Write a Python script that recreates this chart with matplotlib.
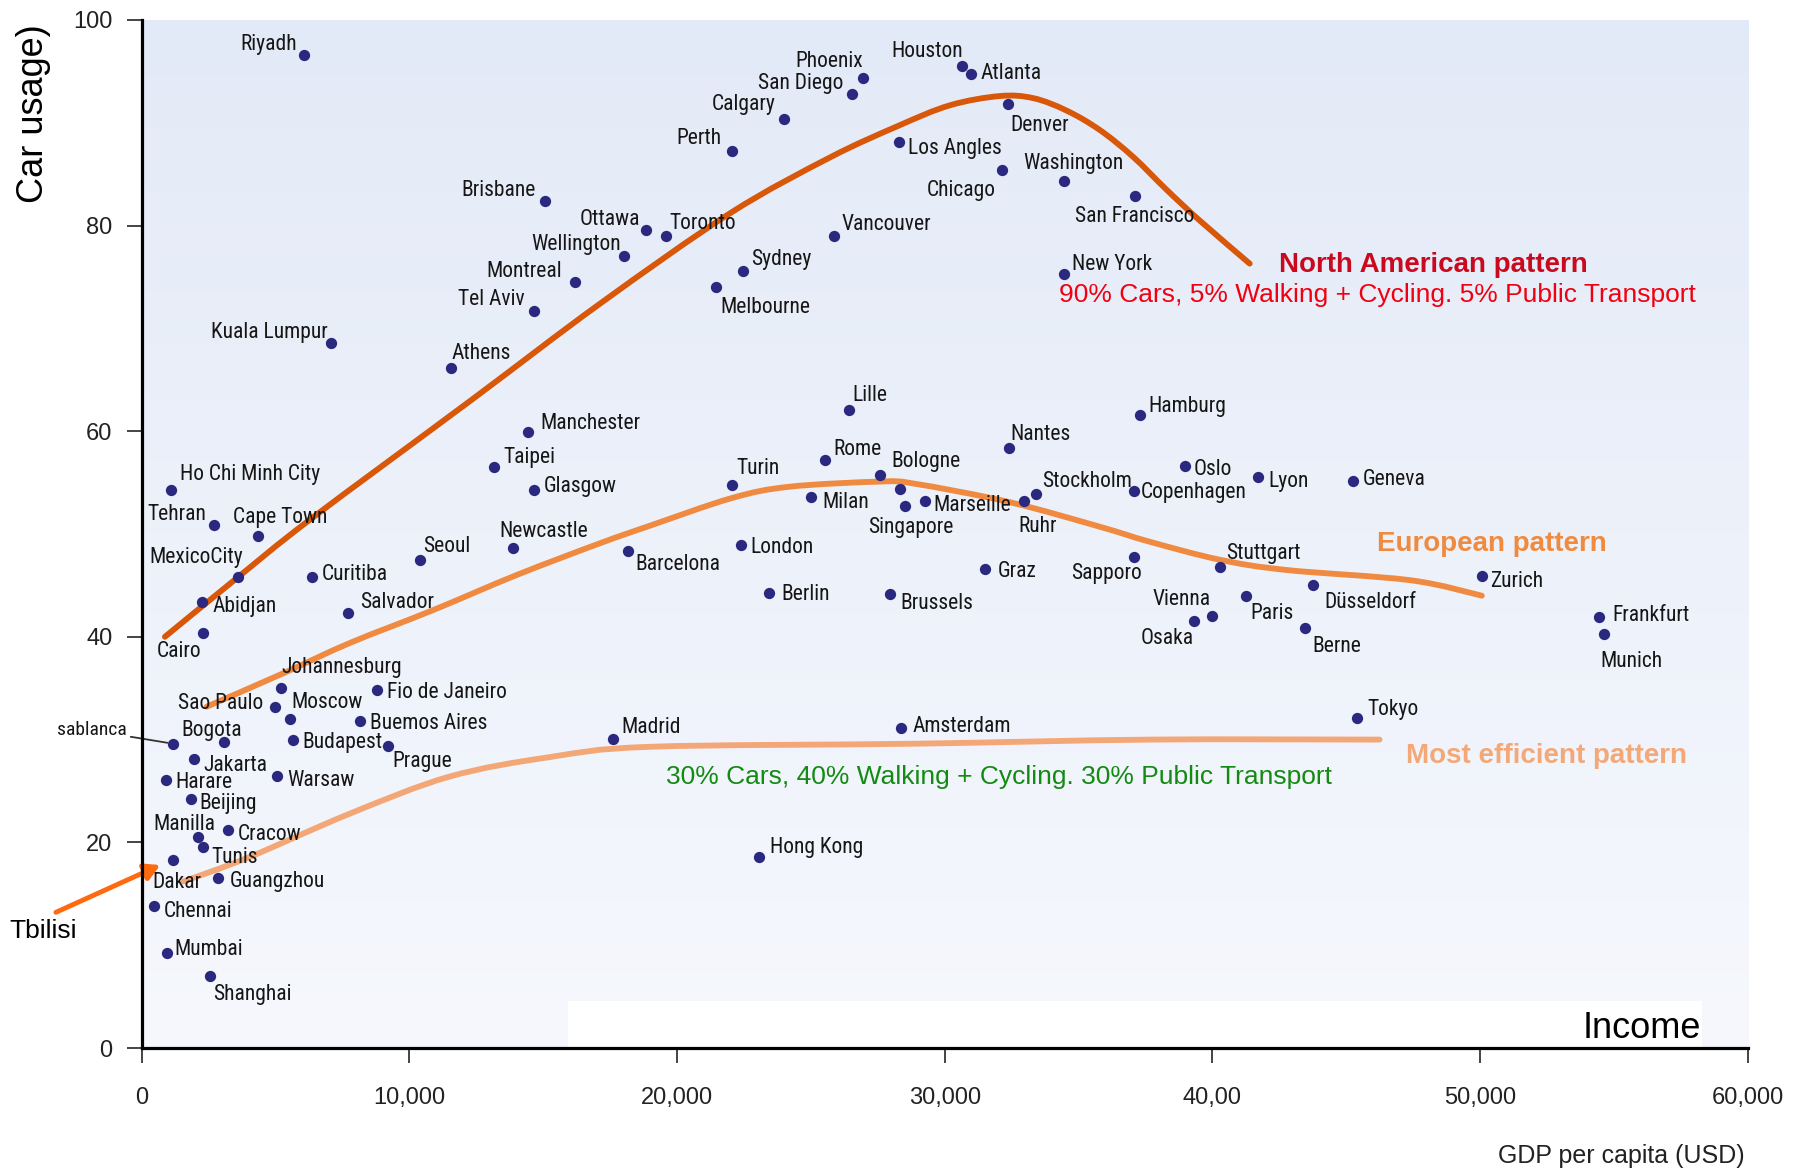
import numpy as np
import matplotlib
matplotlib.use("Agg")
import matplotlib.pyplot as plt
from matplotlib import font_manager
from matplotlib.patches import Rectangle, PathPatch
from matplotlib.path import Path

# ---------------- data ----------------
cities = ["Riyadh", "Houston", "Atlanta", "Phoenix", "San Diego", "Calgary", "Denver", "Perth",
          "Los Angles", "Chicago", "Washington", "San Francisco", "Brisbane", "Ottawa", "Toronto",
          "Wellington", "Vancouver", "Montreal", "Sydney", "Melbourne", "Tel Aviv", "New York",
          "Kuala Lumpur", "Athens", "Lille", "Hamburg", "Manchester", "Nantes", "Rome", "Taipei",
          "Oslo", "Bologne", "Lyon", "Geneva", "Turin", "Ho Chi Minh City", "Glasgow", "Copenhagen",
          "Stockholm", "Milan", "Marseille", "Ruhr", "Singapore", "", "Tehran", "Cape Town",
          "London", "Newcastle", "Barcelona", "Sapporo", "Seoul", "Stuttgart", "Graz", "Zurich",
          "MexicoCity", "Curitiba", "Düsseldorf", "Berlin", "Brussels", "Paris", "Abidjan",
          "Salvador", "Vienna", "Frankfurt", "Osaka", "Berne", "Cairo", "Munich", "Johannesburg",
          "Fio de Janeiro", "Sao Paulo", "Tokyo", "Moscow", "Buemos Aires", "Amsterdam", "Madrid",
          "Budapest", "Bogota", "Casablanca", "Prague", "Jakarta", "Warsaw", "Harare", "Beijing",
          "Cracow", "Manilla", "Tunis", "Hong Kong", "Dakar", "Guangzhou", "Chennai", "Mumbai",
          "Shanghai"]

gdp = [6060, 30630, 30980, 26960, 26550, 23990, 32360, 22060,
       28290, 32140, 34440, 37090, 15060, 18830, 19590,
       18030, 25850, 16190, 22480, 21460, 14650, 34440,
       7060, 11550, 26410, 37300, 14440, 32390, 25520, 13150,
       38990, 27590, 41700, 45250, 22050, 1090, 14650, 37080,
       33410, 24990, 29260, 32960, 28520, 28330, 2690, 4360,
       22370, 13860, 18150, 37070, 10390, 40270, 31510, 50080,
       3600, 6360, 43760, 23430, 27950, 41270, 2270,
       7720, 39970, 54430, 39320, 43440, 2290, 54610, 5190,
       8790, 5000, 45410, 5550, 8160, 28380, 17610,
       5670, 3070, 1170, 9190, 1960, 5060, 900, 1860,
       3220, 2090, 2290, 23070, 1160, 2850, 460, 940,
       2570]

car = [96.6, 95.5, 94.7, 94.4, 92.8, 90.4, 91.8, 87.3,
       88.1, 85.4, 84.3, 82.9, 82.4, 79.6, 79.0,
       77.0, 79.0, 74.5, 75.6, 74.0, 71.7, 75.3,
       68.6, 66.1, 62.1, 61.6, 59.9, 58.4, 57.2, 56.5,
       56.6, 55.7, 55.5, 55.2, 54.8, 54.3, 54.3, 54.2,
       53.9, 53.6, 53.2, 53.2, 52.7, 54.4, 50.9, 49.8,
       48.9, 48.6, 48.3, 47.8, 47.5, 46.8, 46.6, 45.9,
       45.8, 45.8, 45.0, 44.3, 44.2, 44.0, 43.4,
       42.3, 42.0, 41.9, 41.5, 40.9, 40.4, 40.3, 35.0,
       34.8, 33.2, 32.1, 32.0, 31.8, 31.1, 30.1,
       30.0, 29.8, 29.6, 29.4, 28.1, 26.5, 26.1, 24.2,
       21.2, 20.5, 19.6, 18.6, 18.3, 16.5, 13.8, 9.2,
       7.0]

# trend curves
na_gdp = [870, 3600, 6290, 12300, 17120, 21980, 25690, 28260, 30190, 32050, 33300,
          34540, 35790, 37030, 38280, 39520, 41390]
na_car = [40.0, 45.8, 51.4, 63.0, 72.4, 81.2, 86.6, 89.7, 91.7, 92.6, 92.4,
          91.2, 89.3, 86.7, 83.5, 80.5, 76.3]
eu_gdp = [2430, 5290, 7780, 10890, 14000, 17120, 18980, 22050, 24200, 27600, 28860,
          32420, 35800, 37650, 40270, 42760, 47400, 50060]
eu_car = [33.2, 36.45, 39.4, 42.6, 46.0, 49.1, 50.8, 53.5, 54.6, 55.1, 54.9,
          53.1, 50.7, 49.25, 47.5, 46.5, 45.5, 44.0]
eff_gdp = [1560, 4050, 7780, 11500, 15250, 18980, 28860, 37650, 46240]
eff_car = [16.2, 18.6, 22.8, 26.4, 28.3, 29.3, 29.6, 30.0, 30.0]

xticks = [0, 10000, 20000, 30000, 40000, 50000, 60000]
xtick_labels = ["0", "10,000", "20,000", "30,000", "40,00", "50,000", "60,000"]
yticks = [0, 20, 40, 60, 80, 100]

# ---------------- label layout (pixel offsets from dot, horizontal alignment) ----------------
label_layout = {
    "Riyadh": (-7, 5, "right"), "Houston": (1, 9, "right"), "Atlanta": (10, -5, "left"),
    "Phoenix": (0, 11, "right"), "San Diego": (-9, 5, "right"), "Calgary": (-8, 9, "right"),
    "Denver": (2, -27, "left"), "Perth": (-11, 7, "right"), "Los Angles": (9, -12, "left"),
    "Chicago": (-6, -26, "right"), "Washington": (-40, 12, "left"),
    "San Francisco": (-60, -26, "left"), "Brisbane": (-9, 5, "right"), "Ottawa": (-6, 5, "right"),
    "Toronto": (3, 7, "left"), "Wellington": (-3, 6, "right"), "Vancouver": (8, 6, "left"),
    "Montreal": (-13, 5, "right"), "Sydney": (8, 6, "left"), "Melbourne": (4, -26, "left"),
    "Tel Aviv": (-9, 6, "right"), "New York": (8, 4, "left"), "Kuala Lumpur": (-3, 5, "right"),
    "Athens": (1, 9, "left"), "Lille": (4, 9, "left"), "Hamburg": (8, 3, "left"),
    "Manchester": (12, 3, "left"), "Nantes": (2, 8, "left"), "Rome": (9, 5, "left"),
    "Taipei": (10, 4, "left"), "Oslo": (8, -9, "left"), "Bologne": (11, 8, "left"),
    "Lyon": (10, -10, "left"), "Geneva": (10, -4, "left"), "Turin": (4, 11, "left"),
    "Ho Chi Minh City": (9, 10, "left"), "Glasgow": (10, -2, "left"),
    "Copenhagen": (6, -7, "left"), "Stockholm": (6, 7, "left"), "Milan": (12, -11, "left"),
    "Marseille": (8, -10, "left"), "Ruhr": (-6, -31, "left"), "Singapore": (-37, -27, "left"),
    "Tehran": (-7, 5, "right"), "Cape Town": (-25, 13, "left"), "London": (10, -8, "left"),
    "Newcastle": (-13, 11, "left"), "Barcelona": (8, -19, "left"), "Sapporo": (8, -22, "right"),
    "Seoul": (3, 8, "left"), "Stuttgart": (6, 8, "left"), "Graz": (13, -8, "left"),
    "Zurich": (8, -11, "left"), "MexicoCity": (5, 14, "right"), "Curitiba": (10, -3, "left"),
    "Düsseldorf": (11, -23, "left"), "Berlin": (12, -7, "left"), "Brussels": (10, -15, "left"),
    "Paris": (4, -23, "left"), "Abidjan": (10, -10, "left"), "Salvador": (12, 5, "left"),
    "Vienna": (-1, 11, "right"), "Frankfurt": (14, -4, "left"), "Osaka": (-1, -23, "right"),
    "Berne": (8, -24, "left"), "Cairo": (-46, -24, "left"), "Munich": (-3, -33, "left"),
    "Johannesburg": (1, 15, "left"), "Fio de Janeiro": (10, -8, "left"),
    "Sao Paulo": (-12, -2, "right"), "Tokyo": (10, 3, "left"), "Moscow": (1, 11, "left"),
    "Buemos Aires": (10, -8, "left"), "Amsterdam": (11, -4, "left"), "Madrid": (8, 6, "left"),
    "Budapest": (9, -8, "left"), "Bogota": (-42, 6, "left"), "Prague": (5, -21, "left"),
    "Jakarta": (9, -12, "left"), "Warsaw": (10, -10, "left"), "Harare": (10, -8, "left"),
    "Beijing": (8, -10, "left"), "Cracow": (10, -10, "left"), "Manilla": (-44, 7, "left"),
    "Tunis": (8, -16, "left"), "Hong Kong": (11, 4, "left"), "Dakar": (-20, -28, "left"),
    "Guangzhou": (12, -9, "left"), "Chennai": (10, -11, "left"), "Mumbai": (8, -2, "left"),
    "Shanghai": (3, -24, "left"),
}

# ---------------- fonts ----------------
installed = {f.name for f in font_manager.fontManager.ttflist}
if "Liberation Sans Narrow" in installed:
    narrow, lab_size = "Liberation Sans Narrow", 16
elif "Roboto Condensed" in installed:
    narrow, lab_size = "Roboto Condensed", 15.5
else:
    narrow, lab_size = "DejaVu Sans", 12.5
sans = "Liberation Sans" if "Liberation Sans" in installed else "DejaVu Sans"
plt.rcParams["font.family"] = [sans, "DejaVu Sans"]


def smooth_path(xs, ys):
    """Catmull-Rom through the read points, drawn as cubic Bezier segments."""
    p = np.column_stack([xs, ys]).astype(float)
    n = len(p)
    verts = [p[0]]
    codes = [Path.MOVETO]
    for i in range(n - 1):
        p0 = p[i - 1] if i > 0 else p[i]
        p1, p2 = p[i], p[i + 1]
        p3 = p[i + 2] if i + 2 < n else p[i + 1]
        c1 = p1 + (p2 - p0) / 6.0
        c2 = p2 - (p3 - p1) / 6.0
        verts += [c1, c2, p2]
        codes += [Path.CURVE4] * 3
    return Path(verts, codes)


# ---------------- figure ----------------
fig = plt.figure(figsize=(17.97, 11.69), dpi=100)
ax = fig.add_axes([0.0788, 0.1035, 0.8939, 0.8794])

# vertical gradient background
top_c = np.array([227, 234, 247]) / 255.0
bot_c = np.array([246, 248, 253]) / 255.0
t = np.linspace(0, 1, 256)[:, None]
grad = (top_c[None, :] * (1 - t) + bot_c[None, :] * t)[:, None, :]
ax.imshow(grad, extent=[0, 1, 0, 1], transform=ax.transAxes, aspect="auto", zorder=0,
          interpolation="bilinear")
ax.add_patch(Rectangle((0.2657, 0.0), 0.706, 0.0457, transform=ax.transAxes,
                       facecolor="white", edgecolor="none", zorder=1))

ax.set_xlim(0, 60000)
ax.set_ylim(0, 100)

# trend curves
for xs, ys, col in [(na_gdp, na_car, "#D85708"), (eu_gdp, eu_car, "#EF8A40"),
                    (eff_gdp, eff_car, "#F3A776")]:
    ax.add_patch(PathPatch(smooth_path(xs, ys), facecolor="none", edgecolor=col, lw=4.2,
                           capstyle="round", joinstyle="round", zorder=3))

# city dots
ax.scatter(gdp, car, s=66, color="#2B2880", linewidths=0, zorder=5)

pt = 0.72  # px -> pt at dpi 100
for name, gx, cy in zip(cities, gdp, car):
    if name not in label_layout:
        continue
    dx, dy, ha = label_layout[name]
    ax.annotate(name, (gx, cy), xytext=(dx * pt, dy * pt), textcoords="offset points",
                ha=ha, va="baseline", fontsize=lab_size, family=[narrow, "DejaVu Sans"],
                color="#161616", zorder=6)

# Casablanca leader label (cut off at the image edge in the original)
ci = cities.index("Casablanca")
ax.annotate("sablanca", xy=(gdp[ci], car[ci]),
            xytext=(-560, 30.9), textcoords="data", ha="right", va="center",
            fontsize=lab_size - 1.5, family=[narrow, "DejaVu Sans"], color="#161616",
            annotation_clip=False,
            arrowprops=dict(arrowstyle="-", color="#333333", lw=1.3, shrinkA=1, shrinkB=4))

# Tbilisi arrow
ax.annotate("", xy=(700, 17.8), xytext=(-3200, 13.2), textcoords="data", annotation_clip=False,
            arrowprops=dict(arrowstyle="-|>,head_length=0.9,head_width=0.5", color="#FF6A10",
                            lw=3.5, shrinkA=0, shrinkB=0))
ax.text(-4930, 10.7, "Tbilisi", ha="left", va="baseline", fontsize=19, color="black",
        clip_on=False)

# pattern annotations
ax.text(42500, 75.5, "North American pattern", fontsize=20, fontweight="bold",
        color="#C90A1E", ha="left", va="baseline", zorder=6)
ax.text(34260, 72.6, "90% Cars, 5% Walking + Cycling. 5% Public Transport", fontsize=19,
        color="#F00010", ha="left", va="baseline", zorder=6)
ax.text(46160, 48.3, "European pattern", fontsize=20, fontweight="bold",
        color="#EF8A3E", ha="left", va="baseline", zorder=6)
ax.text(47240, 27.7, "Most efficient pattern", fontsize=20, fontweight="bold",
        color="#F4A878", ha="left", va="baseline", zorder=6)
ax.text(19570, 25.7, "30% Cars, 40% Walking + Cycling. 30% Public Transport", fontsize=19,
        color="#138A12", ha="left", va="baseline", zorder=6)
ax.text(0.9708, 0.0094, "Income", transform=ax.transAxes, fontsize=26, color="black",
        ha="right", va="baseline", zorder=6)

# axes styling
for s in ["top", "right"]:
    ax.spines[s].set_visible(False)
for s in ["left", "bottom"]:
    ax.spines[s].set_linewidth(2.3)
    ax.spines[s].set_color("black")
    ax.spines[s].set_zorder(7)
ax.set_xticks(xticks)
ax.set_xticklabels(xtick_labels)
ax.set_yticks(yticks)
ax.tick_params(axis="both", direction="out", length=11, width=1.4, color="#444444",
               labelsize=17, labelcolor="#222222")
ax.tick_params(axis="y", pad=10)
ax.tick_params(axis="x", pad=17)

fig.text(0.0184, 0.9025, "Car usage)", rotation=90, ha="center", va="center", fontsize=26,
         color="black")
fig.text(0.9708, 0.0051, "GDP per capita (USD)", ha="right", va="baseline", fontsize=18,
         color="#222222")

fig.savefig("out.png", dpi=100, facecolor="white")
